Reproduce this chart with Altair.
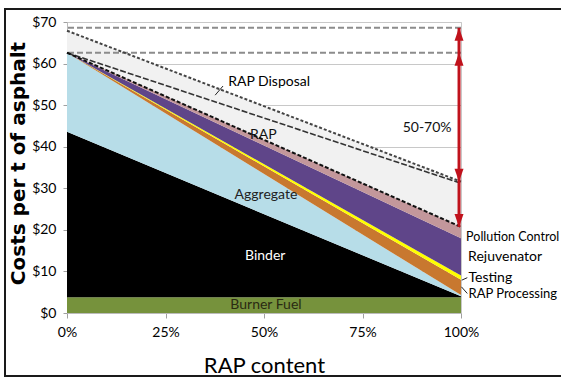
import altair as alt
import pandas as pd

FONT = "Lato"

# RAP share of the mix (%) at the two ends of each cost band
rap_share = [0, 100]

# Cost components per tonne of asphalt, bottom to top of the stack
layers = ["Burner Fuel", "Binder", "Aggregate", "RAP Processing",
          "Testing", "Rejuvenator", "Pollution Control"]
layer_colors = ["#76923C", "#000000", "#B7DDE8", "#C8782F",
                "#FFFF00", "#5F4589", "#C3979B"]
cost_at_0 = [3.8, 39.8, 19.0, 0.0, 0.0, 0.0, 0.0]
cost_at_100 = [3.8, 0.2, 0.3, 3.7, 1.0, 9.0, 2.7]

# Dashed cost curves
rap_curve = [62.6, 31.2]
disposal_curve = [67.9, 31.6]
reference_levels = [68.6, 62.6]

# Savings arrow at the 100% end
arrow_x = 99.5

# Text annotations: (label, x, y)
centered_labels = ["RAP", "Aggregate", "Binder", "Burner Fuel", "50-70%"]
centered_x = [49.8, 50.5, 50.3, 50.5, 91.4]
centered_y = [42.9, 28.4, 13.7, 1.9, 44.6]
centered_colors = ["#111111", "#222222", "#FFFFFF", "#2A2A12", "#111111"]

side_labels = ["RAP Disposal", "Pollution Control", "Rejuvenator", "Testing", "RAP Processing"]
side_x = [40.9, 101.3, 101.8, 101.9, 101.9]
side_y = [55.6, 18.4, 13.5, 8.5, 4.6]
side_sizes = [14, 12.5, 14, 14, 13]

# Leader lines for annotations
leader_x = [37.6, 100.2, 100.1]
leader_x2 = [39.6, 101.6, 101.6]
leader_y = [52.4, 7.9, 6.3]
leader_y2 = [54.6, 8.5, 4.7]

# ---- tables built from the arrays above ----
stack_rows = []
for i, name in enumerate(layers):
    for x, v in zip(rap_share, [cost_at_0[i], cost_at_100[i]]):
        stack_rows.append({"rap": x, "layer": name, "cost": v, "ord": i})
stack_df = pd.DataFrame(stack_rows)

stack_top = [sum(cost_at_0), sum(cost_at_100)]
curves_df = pd.DataFrame({
    "rap": rap_share,
    "top": stack_top,
    "rap_curve": rap_curve,
    "disposal": disposal_curve,
})
levels_df = pd.DataFrame({"level": reference_levels})

arrow_df = pd.DataFrame({"x": [arrow_x], "y": [reference_levels[0]], "y2": [stack_top[1]]})
heads_up_df = pd.DataFrame({"x": [arrow_x, arrow_x], "y": reference_levels})
heads_down_df = pd.DataFrame({"x": [arrow_x, arrow_x], "y": [disposal_curve[1], stack_top[1]]})

centered_df = pd.DataFrame({"label": centered_labels, "x": centered_x,
                            "y": centered_y, "c": centered_colors})
side_df = pd.DataFrame({"label": side_labels, "x": side_x, "y": side_y, "s": side_sizes})
leader_df = pd.DataFrame({"x": leader_x, "x2": leader_x2, "y": leader_y, "y2": leader_y2})

x_scale = alt.Scale(domain=[0, 100], nice=False)
y_scale = alt.Scale(domain=[0, 70], nice=False)

x_axis = alt.Axis(
    values=[0, 25, 50, 75, 100], labelExpr="datum.value + '%'", labelFlush=False,
    title="RAP content", titleFont=FONT, titleFontSize=22, titleFontWeight="normal",
    titleColor="#000000", titleY=59, titleBaseline="alphabetic",
    labelFont=FONT, labelFontSize=14, labelColor="#000000", labelPadding=7,
    tickSize=5, tickColor="#A0A0A0", domainColor="#BBBBBB", grid=False,
)
y_axis = alt.Axis(
    values=list(range(0, 71, 10)), labelExpr="'$' + datum.value", labelFlush=False,
    title="Costs per t of asphalt", titleFont="DejaVu Sans", titleFontSize=20,
    titleFontWeight="bold", titleColor="#000000", titleAngle=270,
    titleX=-49, titleY=141, titleAlign="center", titleBaseline="middle",
    labelFont=FONT, labelFontSize=14, labelColor="#000000", labelPadding=7,
    tickSize=4, tickColor="#A0A0A0", domainColor="#BBBBBB",
    grid=True, gridColor="#C8C8C8", gridWidth=1,
)


def X(field):
    return alt.X(field, scale=x_scale, axis=x_axis)


def Y(field):
    return alt.Y(field, scale=y_scale, axis=y_axis)


# Stippled band between the stacked costs and the disposal curve
stipple = alt.Chart(curves_df).mark_area(color="#F1F1F1", opacity=1).encode(
    x=X("rap:Q"), y=Y("disposal:Q"), y2="top:Q",
)

ref_rules = alt.Chart(levels_df).mark_rule(
    color="#8C8C8C", strokeDash=[6, 3], strokeWidth=2
).encode(y=Y("level:Q"))

stack = alt.Chart(stack_df).mark_area(interpolate="linear").encode(
    x=X("rap:Q"),
    y=alt.Y("cost:Q", stack="zero", scale=y_scale, axis=y_axis),
    color=alt.Color("layer:N", scale=alt.Scale(domain=layers, range=layer_colors), legend=None),
    order=alt.Order("ord:Q", sort="ascending"),
)

rap_line = alt.Chart(curves_df).mark_line(
    color="#333333", strokeDash=[6, 2], strokeWidth=1.6
).encode(x=X("rap:Q"), y=Y("rap_curve:Q"))

disposal_line = alt.Chart(curves_df).mark_line(
    color="#444444", strokeDash=[3, 2], strokeWidth=2
).encode(x=X("rap:Q"), y=Y("disposal:Q"))

top_line = alt.Chart(curves_df).mark_line(
    color="#111111", strokeDash=[4, 2], strokeWidth=2
).encode(x=X("rap:Q"), y=Y("top:Q"))

RED = "#C0121C"
arrow = alt.Chart(arrow_df).mark_rule(color=RED, strokeWidth=3).encode(
    x=X("x:Q"), y=Y("y:Q"), y2="y2:Q"
)
heads_up = alt.Chart(heads_up_df).mark_point(
    shape="M0,0L-0.9,2.6L0.9,2.6Z", filled=True, size=100, color=RED, opacity=1
).encode(x=X("x:Q"), y=Y("y:Q"))
heads_down = alt.Chart(heads_down_df).mark_point(
    shape="M0,0L-0.9,-2.6L0.9,-2.6Z", filled=True, size=100, color=RED, opacity=1
).encode(x=X("x:Q"), y=Y("y:Q"))

leaders = alt.Chart(leader_df).mark_rule(color="#222222", strokeWidth=1).encode(
    x=X("x:Q"), x2="x2:Q", y=Y("y:Q"), y2="y2:Q"
)

centered_text = alt.Chart(centered_df).mark_text(
    font=FONT, fontSize=14, align="center", baseline="middle"
).encode(x=X("x:Q"), y=Y("y:Q"), text="label:N", color=alt.Color("c:N", scale=None))

side_text = alt.Chart(side_df).mark_text(
    font=FONT, align="left", baseline="middle", color="#000000"
).encode(x=X("x:Q"), y=Y("y:Q"), text="label:N", size=alt.Size("s:Q", scale=None))

# Outer frame around the figure
frame = alt.Chart(pd.DataFrame({"f": [0]})).mark_rect(
    fillOpacity=0, stroke="#1A1A1A", strokeWidth=2
).encode(
    x=alt.value(-62), x2=alt.value(620), y=alt.value(-13), y2=alt.value(354)
)

chart = alt.layer(
    stipple, ref_rules, stack, rap_line, disposal_line, top_line,
    arrow, heads_up, heads_down, leaders, centered_text, side_text, frame,
).properties(
    width=394, height=291,
    autosize=alt.AutoSizeParams(type="none"),
    padding={"left": 67, "top": 22, "right": 100, "bottom": 65},
    background="#FFFFFF",
).configure_view(stroke="#C8C8C8")

chart.save("out.html", embed_options={"renderer": "svg", "actions": False})
